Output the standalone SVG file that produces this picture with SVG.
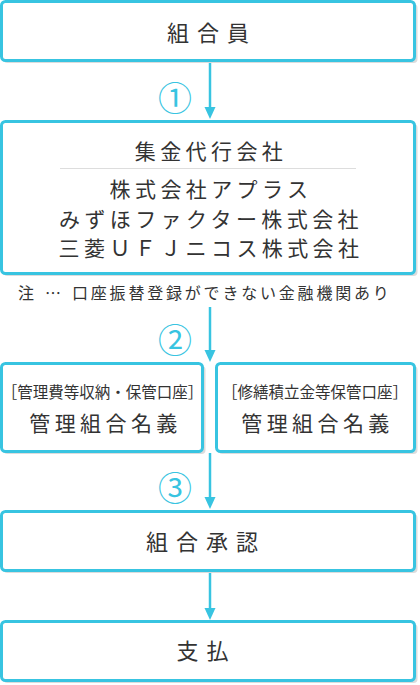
<svg xmlns="http://www.w3.org/2000/svg" width="420" height="685" viewBox="0 0 420 685">
<defs>
<style>
.sh{fill:#dcdcdc;}
.bx{fill:#fff;stroke:#38c4e1;stroke-width:3;}
.t{font-family:"Noto Sans CJK JP","Noto Sans",sans-serif;fill:#333;text-anchor:middle;}
.big{font-size:22px;letter-spacing:8px;}
.mid{font-size:21px;letter-spacing:4.4px;}
.sm{font-size:15.5px;}
.note{font-family:"Noto Sans CJK JP","Noto Sans",sans-serif;fill:#333;font-size:16px;letter-spacing:2.8px;}
.num{font-family:"Noto Sans CJK JP","Noto Sans",sans-serif;fill:#38c4e1;font-size:34px;text-anchor:middle;}
.ln{stroke:#38c4e1;stroke-width:2.5;fill:none;}
.ah{fill:#38c4e1;}
</style>
</defs>
<rect width="420" height="685" fill="#fff"/>
<g id="connectors">
<line class="ln" x1="210" y1="63" x2="210" y2="109"/>
<polygon class="ah" points="204.5,107 215.5,107 210,119"/>
<line class="ln" x1="210" y1="307" x2="210" y2="352"/>
<polygon class="ah" points="204.5,350 215.5,350 210,362"/>
<line class="ln" x1="210" y1="453" x2="210" y2="499"/>
<polygon class="ah" points="204.5,497 215.5,497 210,509"/>
<line class="ln" x1="210" y1="573" x2="210" y2="610"/>
<polygon class="ah" points="204.5,608 215.5,608 210,620"/>
<text class="num" x="175" y="111">①</text>
<text class="num" x="175" y="353">②</text>
<text class="num" x="175" y="501">③</text>
</g>
<g id="n1">
<rect class="sh" x="3.5" y="4" width="414" height="59" rx="4"/>
<rect class="bx" x="1.5" y="1.5" width="413" height="59" rx="4"/>
<text class="t big" x="212" y="40.5">組合員</text>
</g>
<g id="n2">
<rect class="sh" x="3.5" y="124" width="414" height="152" rx="4"/>
<rect class="bx" x="1.5" y="121.5" width="413" height="152" rx="4"/>
<text class="t mid" x="211" y="159">集金代行会社</text>
<line x1="60" y1="168.5" x2="356" y2="168.5" stroke="#dddddd" stroke-width="1"/>
<text class="t mid" x="211" y="196.5">株式会社アプラス</text>
<text class="t mid" x="211" y="226.5">みずほファクター株式会社</text>
<text class="t mid" x="211" y="255.5">三菱ＵＦＪニコス株式会社</text>
</g>
<text class="note" y="298.5"><tspan x="18">注</tspan><tspan x="45">…</tspan><tspan x="72">口座振替登録ができない金融機関あり</tspan></text>
<g id="n3a">
<rect class="sh" x="3.5" y="366" width="202" height="88" rx="4"/>
<rect class="bx" x="1.5" y="363.5" width="201" height="88" rx="4"/>
<text class="t sm" x="102.5" y="398">［管理費等収納・保管口座］</text>
<text class="t mid" x="105.5" y="430.5">管理組合名義</text>
</g>
<g id="n3b">
<rect class="sh" x="218.5" y="366" width="199" height="88" rx="4"/>
<rect class="bx" x="216.5" y="363.5" width="198" height="88" rx="4"/>
<text class="t sm" x="315" y="398">［修繕積立金等保管口座］</text>
<text class="t mid" x="317.5" y="430.5">管理組合名義</text>
</g>
<g id="n4">
<rect class="sh" x="3.5" y="514" width="414" height="59" rx="4"/>
<rect class="bx" x="1.5" y="511.5" width="413" height="59" rx="4"/>
<text class="t big" x="206" y="549.5">組合承認</text>
</g>
<g id="n5">
<rect class="sh" x="3.5" y="624" width="414" height="59" rx="4"/>
<rect class="bx" x="1.5" y="621.5" width="413" height="59" rx="4"/>
<text class="t big" x="206.5" y="658.5" letter-spacing="9">支払</text>
</g>
</svg>
